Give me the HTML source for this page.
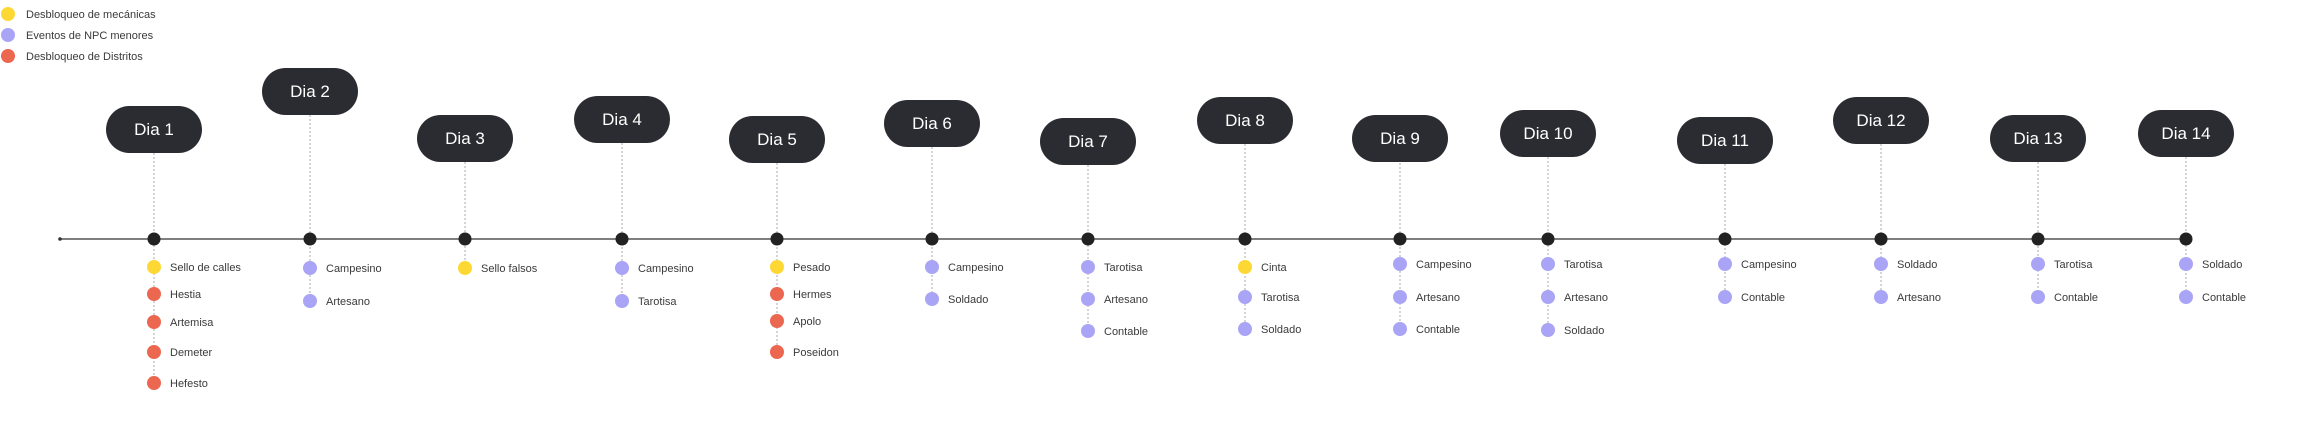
<!DOCTYPE html>
<html><head><meta charset="utf-8"><style>
html,body{margin:0;padding:0;background:#fff;}
svg{display:block;font-family:"Liberation Sans",sans-serif;}
.lb{font-size:11px;fill:#3a3a3a;}
.dl{font-size:17px;fill:#fff;text-anchor:middle;}
.box{fill:#2b2c31;}
.vc{stroke:#aaa;stroke-width:1;stroke-dasharray:2,2;}
</style></head><body>
<svg width="2298" height="435" viewBox="0 0 2298 435">
<!-- legend -->
<circle cx="8" cy="14" r="7" fill="#fdd835"/><text class="lb" x="26" y="18">Desbloqueo de mecánicas</text>
<circle cx="8" cy="35" r="7" fill="#a9a4f6"/><text class="lb" x="26" y="39">Eventos de NPC menores</text>
<circle cx="8" cy="56" r="7" fill="#eb6750"/><text class="lb" x="26" y="60">Desbloqueo de Distritos</text>
<!-- timeline -->
<line x1="60" y1="239" x2="2182" y2="239" stroke="#555" stroke-width="1.5"/>
<circle cx="60" cy="239" r="1.8" fill="#333"/>
<!-- connectors -->
<g class="vc">
<line x1="154" y1="153" x2="154" y2="383"/>
<line x1="310" y1="115" x2="310" y2="301"/>
<line x1="465" y1="162" x2="465" y2="268"/>
<line x1="622" y1="143" x2="622" y2="301"/>
<line x1="777" y1="163" x2="777" y2="352"/>
<line x1="932" y1="147" x2="932" y2="299"/>
<line x1="1088" y1="165" x2="1088" y2="331"/>
<line x1="1245" y1="144" x2="1245" y2="329"/>
<line x1="1400" y1="163" x2="1400" y2="329"/>
<line x1="1548" y1="157" x2="1548" y2="330"/>
<line x1="1725" y1="164" x2="1725" y2="297"/>
<line x1="1881" y1="144" x2="1881" y2="297"/>
<line x1="2038" y1="162" x2="2038" y2="297"/>
<line x1="2186" y1="157" x2="2186" y2="297"/>
</g>
<!-- day boxes -->
<g>
<rect class="box" x="106" y="106" width="96" height="47" rx="23.5"/><text class="dl" x="154" y="135">Dia 1</text>
<rect class="box" x="262" y="68" width="96" height="47" rx="23.5"/><text class="dl" x="310" y="97">Dia 2</text>
<rect class="box" x="417" y="115" width="96" height="47" rx="23.5"/><text class="dl" x="465" y="144">Dia 3</text>
<rect class="box" x="574" y="96" width="96" height="47" rx="23.5"/><text class="dl" x="622" y="125">Dia 4</text>
<rect class="box" x="729" y="116" width="96" height="47" rx="23.5"/><text class="dl" x="777" y="145">Dia 5</text>
<rect class="box" x="884" y="100" width="96" height="47" rx="23.5"/><text class="dl" x="932" y="129">Dia 6</text>
<rect class="box" x="1040" y="118" width="96" height="47" rx="23.5"/><text class="dl" x="1088" y="147">Dia 7</text>
<rect class="box" x="1197" y="97" width="96" height="47" rx="23.5"/><text class="dl" x="1245" y="126">Dia 8</text>
<rect class="box" x="1352" y="115" width="96" height="47" rx="23.5"/><text class="dl" x="1400" y="144">Dia 9</text>
<rect class="box" x="1500" y="110" width="96" height="47" rx="23.5"/><text class="dl" x="1548" y="139">Dia 10</text>
<rect class="box" x="1677" y="117" width="96" height="47" rx="23.5"/><text class="dl" x="1725" y="146">Dia 11</text>
<rect class="box" x="1833" y="97" width="96" height="47" rx="23.5"/><text class="dl" x="1881" y="126">Dia 12</text>
<rect class="box" x="1990" y="115" width="96" height="47" rx="23.5"/><text class="dl" x="2038" y="144">Dia 13</text>
<rect class="box" x="2138" y="110" width="96" height="47" rx="23.5"/><text class="dl" x="2186" y="139">Dia 14</text>
</g>
<!-- nodes -->
<g fill="#222">
<circle cx="154" cy="239" r="6.5"/><circle cx="310" cy="239" r="6.5"/><circle cx="465" cy="239" r="6.5"/>
<circle cx="622" cy="239" r="6.5"/><circle cx="777" cy="239" r="6.5"/><circle cx="932" cy="239" r="6.5"/>
<circle cx="1088" cy="239" r="6.5"/><circle cx="1245" cy="239" r="6.5"/><circle cx="1400" cy="239" r="6.5"/>
<circle cx="1548" cy="239" r="6.5"/><circle cx="1725" cy="239" r="6.5"/><circle cx="1881" cy="239" r="6.5"/>
<circle cx="2038" cy="239" r="6.5"/><circle cx="2186" cy="239" r="6.5"/>
</g>
<!-- items -->
<g>
<circle cx="154" cy="267" r="7" fill="#fdd835"/><text class="lb" x="170" y="271">Sello de calles</text>
<circle cx="154" cy="294" r="7" fill="#eb6750"/><text class="lb" x="170" y="298">Hestia</text>
<circle cx="154" cy="322" r="7" fill="#eb6750"/><text class="lb" x="170" y="326">Artemisa</text>
<circle cx="154" cy="352" r="7" fill="#eb6750"/><text class="lb" x="170" y="356">Demeter</text>
<circle cx="154" cy="383" r="7" fill="#eb6750"/><text class="lb" x="170" y="387">Hefesto</text>

<circle cx="310" cy="268" r="7" fill="#a9a4f6"/><text class="lb" x="326" y="272">Campesino</text>
<circle cx="310" cy="301" r="7" fill="#a9a4f6"/><text class="lb" x="326" y="305">Artesano</text>

<circle cx="465" cy="268" r="7" fill="#fdd835"/><text class="lb" x="481" y="272">Sello falsos</text>

<circle cx="622" cy="268" r="7" fill="#a9a4f6"/><text class="lb" x="638" y="272">Campesino</text>
<circle cx="622" cy="301" r="7" fill="#a9a4f6"/><text class="lb" x="638" y="305">Tarotisa</text>

<circle cx="777" cy="267" r="7" fill="#fdd835"/><text class="lb" x="793" y="271">Pesado</text>
<circle cx="777" cy="294" r="7" fill="#eb6750"/><text class="lb" x="793" y="298">Hermes</text>
<circle cx="777" cy="321" r="7" fill="#eb6750"/><text class="lb" x="793" y="325">Apolo</text>
<circle cx="777" cy="352" r="7" fill="#eb6750"/><text class="lb" x="793" y="356">Poseidon</text>

<circle cx="932" cy="267" r="7" fill="#a9a4f6"/><text class="lb" x="948" y="271">Campesino</text>
<circle cx="932" cy="299" r="7" fill="#a9a4f6"/><text class="lb" x="948" y="303">Soldado</text>

<circle cx="1088" cy="267" r="7" fill="#a9a4f6"/><text class="lb" x="1104" y="271">Tarotisa</text>
<circle cx="1088" cy="299" r="7" fill="#a9a4f6"/><text class="lb" x="1104" y="303">Artesano</text>
<circle cx="1088" cy="331" r="7" fill="#a9a4f6"/><text class="lb" x="1104" y="335">Contable</text>

<circle cx="1245" cy="267" r="7" fill="#fdd835"/><text class="lb" x="1261" y="271">Cinta</text>
<circle cx="1245" cy="297" r="7" fill="#a9a4f6"/><text class="lb" x="1261" y="301">Tarotisa</text>
<circle cx="1245" cy="329" r="7" fill="#a9a4f6"/><text class="lb" x="1261" y="333">Soldado</text>

<circle cx="1400" cy="264" r="7" fill="#a9a4f6"/><text class="lb" x="1416" y="268">Campesino</text>
<circle cx="1400" cy="297" r="7" fill="#a9a4f6"/><text class="lb" x="1416" y="301">Artesano</text>
<circle cx="1400" cy="329" r="7" fill="#a9a4f6"/><text class="lb" x="1416" y="333">Contable</text>

<circle cx="1548" cy="264" r="7" fill="#a9a4f6"/><text class="lb" x="1564" y="268">Tarotisa</text>
<circle cx="1548" cy="297" r="7" fill="#a9a4f6"/><text class="lb" x="1564" y="301">Artesano</text>
<circle cx="1548" cy="330" r="7" fill="#a9a4f6"/><text class="lb" x="1564" y="334">Soldado</text>

<circle cx="1725" cy="264" r="7" fill="#a9a4f6"/><text class="lb" x="1741" y="268">Campesino</text>
<circle cx="1725" cy="297" r="7" fill="#a9a4f6"/><text class="lb" x="1741" y="301">Contable</text>

<circle cx="1881" cy="264" r="7" fill="#a9a4f6"/><text class="lb" x="1897" y="268">Soldado</text>
<circle cx="1881" cy="297" r="7" fill="#a9a4f6"/><text class="lb" x="1897" y="301">Artesano</text>

<circle cx="2038" cy="264" r="7" fill="#a9a4f6"/><text class="lb" x="2054" y="268">Tarotisa</text>
<circle cx="2038" cy="297" r="7" fill="#a9a4f6"/><text class="lb" x="2054" y="301">Contable</text>

<circle cx="2186" cy="264" r="7" fill="#a9a4f6"/><text class="lb" x="2202" y="268">Soldado</text>
<circle cx="2186" cy="297" r="7" fill="#a9a4f6"/><text class="lb" x="2202" y="301">Contable</text>
</g>
</svg>
</body></html>
